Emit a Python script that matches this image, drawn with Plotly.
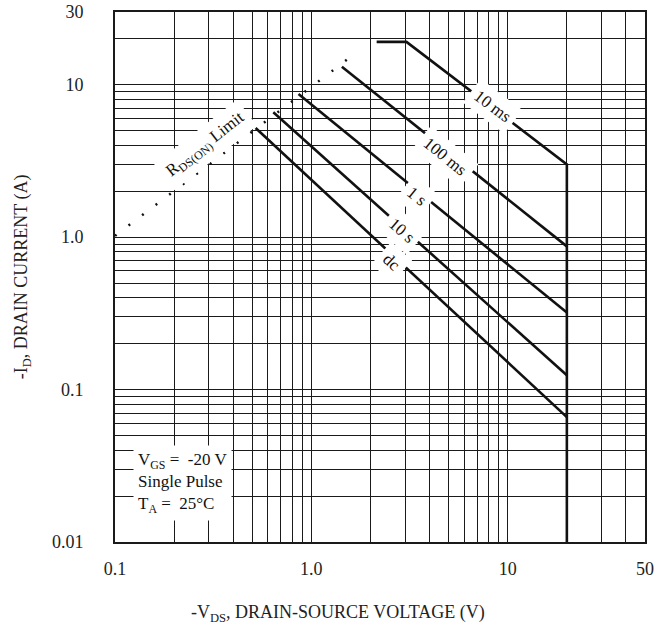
import math
import plotly.graph_objects as go

# Safe operating area, single pulse, T_A = 25 C
# curve vertices: drain-source voltage (V) and drain current (A)
v_10ms = [2.15, 3.05, 20.0, 20.0]
i_10ms = [19.1, 19.1, 3.0, 0.01]

v_100ms = [1.43, 20.0]
i_100ms = [13.1, 0.87]

v_1s = [0.86, 20.0]
i_1s = [8.7, 0.32]

v_10s = [0.64, 20.0]
i_10s = [6.6, 0.124]

v_dc = [0.52, 20.0]
i_dc = [5.2, 0.066]

# R_DS(on) limit
v_rds = [0.1, 1.71]
i_rds = [1.02, 16.4]

# grid / tick positions
x_grid = [0.1, 0.2, 0.3, 0.4, 0.5, 0.6, 0.7, 0.8, 0.9,
          1, 2, 3, 4, 5, 6, 7, 8, 9,
          10, 20, 30, 40, 50]
x_labels = {0.1: "0.1", 1: "1.0", 10: "10", 50: "50"}
y_grid = [0.01, 0.02, 0.03, 0.04, 0.05, 0.06, 0.07, 0.08, 0.09,
          0.1, 0.2, 0.3, 0.4, 0.5, 0.6, 0.7, 0.8, 0.9,
          1, 2, 3, 4, 5, 6, 7, 8, 9,
          10, 20, 30]
y_labels = {0.01: "0.01", 0.1: "0.1", 1: "1.0", 10: "10", 30: "30"}

# curve labels: text, anchor voltage, anchor current, angle
curve_labels = [
    ("10 ms", 8.4, 7.2, 37),
    ("100 ms", 4.79, 3.36, 39),
    ("1 s", 3.45, 1.85, 39),
    ("10 s", 2.89, 1.11, 41),
    ("dc", 2.57, 0.68, 42),
]
rds_label = ("R<sub>DS(ON)</sub> Limit", 0.29, 4.0, -38)

FONT = "Liberation Serif, Times New Roman, serif"
INK = "#111111"

fig = go.Figure()

for v, i in [(v_10ms, i_10ms), (v_100ms, i_100ms), (v_1s, i_1s),
             (v_10s, i_10s), (v_dc, i_dc)]:
    fig.add_trace(go.Scatter(x=v, y=i, mode="lines",
                             line=dict(color=INK, width=2.6),
                             hoverinfo="skip", showlegend=False))

fig.add_trace(go.Scatter(x=v_rds, y=i_rds, mode="lines",
                         line=dict(color=INK, width=2.5, dash="2px,15px"),
                         hoverinfo="skip", showlegend=False))

# annotations on log axes take log10 coordinates
for text, xv, yv, ang in curve_labels + [rds_label]:
    fig.add_annotation(x=math.log10(xv), y=math.log10(yv), xref="x", yref="y",
                       text=text, showarrow=False, textangle=ang,
                       font=dict(family=FONT, size=17, color=INK),
                       bgcolor="white", borderpad=5)

fig.add_annotation(x=0.034, y=0.112, xref="paper", yref="paper",
                   xanchor="left", yanchor="middle", align="left",
                   text="V<sub>GS</sub> =  -20 V<br>Single Pulse<br>T<sub>A</sub> =  25\u00b0C",
                   showarrow=False,
                   font=dict(family=FONT, size=17, color=INK),
                   bgcolor="white", borderpad=4)

# axis titles
fig.add_annotation(x=0.42, y=-0.135, xref="paper", yref="paper",
                   xanchor="center", yanchor="middle",
                   text="-V<sub>DS</sub>, DRAIN-SOURCE VOLTAGE (V)", showarrow=False,
                   font=dict(family=FONT, size=18, color="#222222"))
fig.add_annotation(x=-0.175, y=0.5, xref="paper", yref="paper",
                   xanchor="center", yanchor="middle", textangle=-90,
                   text="-I<sub>D</sub>, DRAIN CURRENT (A)", showarrow=False,
                   font=dict(family=FONT, size=18, color="#222222"))

axis_common = dict(type="log", showgrid=True, gridcolor="#1a1a1a", gridwidth=1.3,
                   showline=True, linecolor="#1a1a1a", linewidth=1.6, mirror=True,
                   ticks="outside", tickcolor="rgba(0,0,0,0)",
                   tickfont=dict(family=FONT, size=18, color="#222222"),
                   zeroline=False, automargin=False)

fig.update_xaxes(**axis_common, range=[-1, math.log10(50)],
                 tickvals=x_grid,
                 ticktext=[x_labels.get(v, "") for v in x_grid],
                 ticklen=10)
fig.update_yaxes(**axis_common, range=[-2, math.log10(30)],
                 tickvals=y_grid,
                 ticktext=[y_labels.get(v, "") for v in y_grid],
                 ticklen=26)

fig.update_layout(width=655, height=641,
                  margin=dict(l=115, r=10, t=12, b=99),
                  paper_bgcolor="white", plot_bgcolor="white")

fig.write_html("out.html")
